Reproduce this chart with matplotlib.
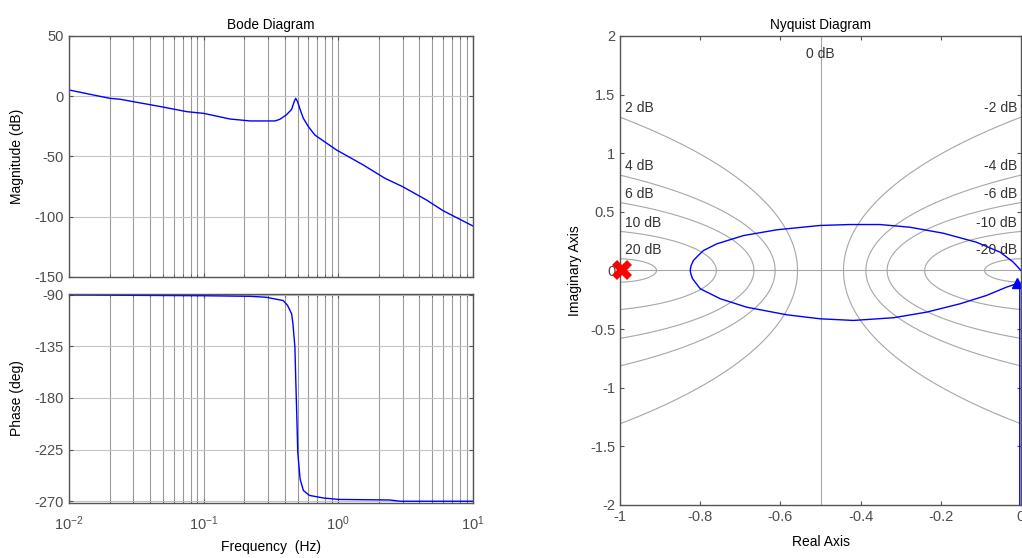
import numpy as np
import matplotlib
matplotlib.use('Agg')
import matplotlib.pyplot as plt
from matplotlib.ticker import LogLocator, NullFormatter, FixedLocator

plt.rcParams['font.family'] = ['Liberation Sans', 'DejaVu Sans']
plt.rcParams['axes.unicode_minus'] = False
plt.rcParams['mathtext.fontset'] = 'custom'
plt.rcParams['mathtext.rm'] = 'Liberation Sans'
plt.rcParams['mathtext.it'] = 'Liberation Sans'

# Bode data
freq_mag = [0.01, 0.02, 0.024, 0.03, 0.04, 0.05, 0.075, 0.1, 0.157, 0.221, 0.338,
            0.367, 0.41, 0.45, 0.47, 0.483, 0.498, 0.52, 0.55, 0.60, 0.67, 0.82,
            0.97, 1.53, 2.22, 3.0, 4.5, 6.0, 10.0]
mag_db = [5.2, -1.7, -2.5, -4.5, -7.0, -9.0, -12.8, -14.2, -18.9, -20.5, -20.5,
          -19.2, -15.6, -10.9, -4.5, -1.7, -4.5, -10.9, -18.3, -25.3, -32.2, -39.0,
          -44.6, -57.0, -68.1, -75.0, -86.0, -95.0, -107.7]

freq_ph = [0.01, 0.1, 0.221, 0.29, 0.39, 0.42, 0.45, 0.46, 0.476, 0.483, 0.491,
           0.50, 0.52, 0.55, 0.61, 0.78, 1.0, 2.4, 2.9, 10.0]
phase_deg = [-90.3, -91.0, -91.5, -92.3, -95.2, -99.5, -106.7, -115.3, -135.5,
             -164.0, -193.0, -227.5, -250.5, -260.6, -264.9, -267.2, -268.4,
             -268.9, -270.0, -270.0]

# Nyquist data
nyq_re = [0.0, -0.019, -0.052, -0.111, -0.194, -0.277, -0.352, -0.426, -0.501,
          -0.609, -0.692, -0.759, -0.792, -0.805, -0.817, -0.823, -0.825,
          -0.823, -0.819, -0.800, -0.750, -0.684, -0.584, -0.501, -0.418, -0.318,
          -0.235, -0.152, -0.086, -0.036, -0.011, -0.003, -0.003]
nyq_im = [0.0, 0.071, 0.156, 0.241, 0.318, 0.369, 0.392, 0.392, 0.384,
          0.347, 0.298, 0.227, 0.170, 0.128, 0.085, 0.040, 0.0,
          -0.035, -0.071, -0.156, -0.241, -0.313, -0.378, -0.412, -0.426, -0.403,
          -0.355, -0.284, -0.213, -0.142, -0.113, -0.105, -2.2]

m_db = [20, 10, 6, 4, 2, -2, -4, -6, -10, -20]

grey_txt = '#4d4d4d'
spine_c = '#555555'
fs_tick = 10.5
fs_lab = 10

fig = plt.figure(figsize=(10.22, 5.58), dpi=100)
ax1 = fig.add_axes([0.0675, 0.5036, 0.3953, 0.4319])
ax2 = fig.add_axes([0.0675, 0.0986, 0.3953, 0.3745])
ax3 = fig.add_axes([0.6067, 0.095, 0.3923, 0.8405])


def style(ax):
    for s in ax.spines.values():
        s.set_color(spine_c)
        s.set_linewidth(1.0)
    ax.tick_params(which='both', direction='in', top=True, right=True,
                   colors=spine_c, labelcolor=grey_txt, labelsize=fs_tick)
    ax.tick_params(which='major', length=3)
    ax.tick_params(which='minor', length=2)


for ax in (ax1, ax2):
    ax.set_xscale('log')
    ax.set_xlim(0.01, 10)
    ax.xaxis.set_major_locator(LogLocator(base=10, numticks=10))
    ax.xaxis.set_minor_locator(LogLocator(base=10, subs=np.arange(2, 10), numticks=10))
    ax.xaxis.set_minor_formatter(NullFormatter())
    ax.grid(True, which='both', axis='x', color='#9a9a9a', linewidth=0.8)
    ax.grid(True, which='major', axis='y', color='#c4c4c4', linewidth=0.8)
    style(ax)

ax1.plot(freq_mag, mag_db, color='#0000ff', linewidth=1.0)
ax1.set_ylim(-150, 50)
ax1.set_yticks([-150, -100, -50, 0, 50])
ax1.xaxis.set_major_formatter(NullFormatter())
ax1.set_ylabel('Magnitude (dB)', fontsize=fs_lab)
ax1.set_title('Bode Diagram', fontsize=9.8, pad=5)

ax2.plot(freq_ph, phase_deg, color='#0000ff', linewidth=1.0)
ax2.set_ylim(-271.5, -89.5)
ax2.set_yticks([-270, -225, -180, -135, -90])
ax2.set_xticks([0.01, 0.1, 1, 10])
ax2.set_xticklabels(['$10^{-2}$', '$10^{-1}$', '$10^{0}$', '$10^{1}$'])
ax2.tick_params(axis='x', which='major', pad=8)
ax2.set_ylabel('Phase (deg)', fontsize=fs_lab)
ax2.set_xlabel('Frequency  (Hz)', fontsize=fs_lab, labelpad=5)
ax1.yaxis.set_label_coords(-0.111, 0.5)
ax2.yaxis.set_label_coords(-0.111, 0.5)

# Nyquist with M-circles
ax3.set_xlim(-1, 0)
ax3.set_ylim(-2, 2)
t = np.linspace(0, 2 * np.pi, 721)
for d in m_db:
    M = 10 ** (d / 20)
    c = -M ** 2 / (M ** 2 - 1)
    r = M / abs(M ** 2 - 1)
    ax3.plot(c + r * np.cos(t), r * np.sin(t), color='#a6a6a6', linewidth=0.8)
    xe = -1 if d > 0 else 0
    ye = np.sqrt(max(r ** 2 - (xe - c) ** 2, 0))
    if d > 0:
        ax3.text(-0.987, ye + 0.075, f'{d} dB', ha='left', va='center',
                 fontsize=fs_lab, color='#333333')
    else:
        ax3.text(-0.01, ye + 0.075, f'{d} dB', ha='right', va='center',
                 fontsize=fs_lab, color='#333333')
ax3.axvline(-0.5, color='#a6a6a6', linewidth=0.8)
ax3.axhline(0, color='#a6a6a6', linewidth=0.8)
ax3.text(-0.5, 1.85, '0 dB', ha='center', va='center', fontsize=fs_lab, color='#333333')

ax3.plot(nyq_re, nyq_im, color='#0000ff', linewidth=1.0)
ax3.plot([-0.011], [-0.11], marker='^', color='#0000ff', markersize=7,
         linestyle='none')
ax3.plot([-0.995], [0], marker='X', color='#ff0000', markersize=14,
         markeredgewidth=0, linestyle='none', clip_on=False, zorder=5)
ax3.xaxis.set_major_locator(FixedLocator([-1, -0.8, -0.6, -0.4, -0.2, 0]))
ax3.set_xticklabels(['-1', '-0.8', '-0.6', '-0.4', '-0.2', '0'])
ax3.set_yticks([-2, -1.5, -1, -0.5, 0, 0.5, 1, 1.5, 2])
ax3.set_yticklabels(['-2', '-1.5', '-1', '-0.5', '0', '0.5', '1', '1.5', '2'])
style(ax3)
ax3.set_xlabel('Real Axis', fontsize=fs_lab, labelpad=8)
ax3.set_ylabel('Imaginary Axis', fontsize=fs_lab, labelpad=6)
ax3.set_title('Nyquist Diagram', fontsize=9.8, pad=5)

fig.savefig('out.png', dpi=100)
